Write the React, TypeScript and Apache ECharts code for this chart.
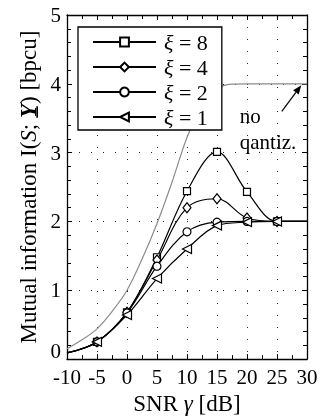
import React, { useEffect, useRef } from 'react';
import * as echarts from 'echarts';

const snr = [-10, -5, 0, 5, 10, 15, 20, 25, 30];
const xi8 = [0.09, 0.25, 0.68, 1.48, 2.44, 3.01, 2.43, 2.0, 2.0];
const xi4 = [0.09, 0.25, 0.68, 1.44, 2.2, 2.33, 2.05, 2.0, 2.0];
const xi2 = [0.09, 0.25, 0.67, 1.35, 1.85, 1.99, 2.0, 2.0, 2.0];
const xi1 = [0.09, 0.25, 0.64, 1.17, 1.6, 1.94, 1.99, 2.0, 2.0];
const grayX = [-10, -7.5, -5, -2.5, 0, 2.5, 5, 7.5, 10, 12.5, 15, 17.5, 20, 25, 30];
const grayY = [0.15, 0.28, 0.44, 0.69, 1.0, 1.45, 1.97, 2.57, 3.22, 3.68, 3.93, 3.995, 4, 4, 4];
const seriesNames = ['xi8', 'xi4', 'xi2', 'xi1'];
const legendLabels = ['8', '4', '2', '1'];
const symbols = ['rect', 'diamond', 'circle', 'path://M0,5L10,0L10,10Z'];
const symbolSizes = [7, [8, 10], 8, 9];

const FONT = 'Liberation Serif';

function build(vals: number[], i: number) {
  return {
    name: seriesNames[i],
    type: 'line',
    smooth: 0.35,
    symbol: symbols[i],
    symbolSize: symbolSizes[i],
    lineStyle: { color: '#000', width: 1.2 },
    itemStyle: { color: '#fff', borderColor: '#000', borderWidth: 1.2 },
    z: 3 + i,
    data: snr.map((x, k) =>
      k === 0 || k === snr.length - 1
        ? { value: [x, vals[k]], symbol: 'none' }
        : [x, vals[k]]
    ),
  };
}

export default function App() {
  const ref = useRef<HTMLDivElement>(null);
  useEffect(() => {
    document.body.style.margin = '0';
    const chart = echarts.init(ref.current!, null, { renderer: 'svg' });
    const axisCommon = {
      type: 'value',
      axisLine: { show: true, onZero: false, lineStyle: { color: '#000', width: 1.3 } },
      axisTick: { show: true, inside: true, length: 5, lineStyle: { color: '#000', width: 1 } },
      minorTick: { show: true, length: 4, lineStyle: { color: '#000', width: 1 } },
    };
    const option: any = {
      animation: false,
      grid: { left: 67, right: 26, top: 15, bottom: 57 },
      legend: {
        data: seriesNames,
        orient: 'vertical',
        left: 78,
        top: 27,
        padding: [4, 14, 2, 14],
        itemGap: 3,
        itemWidth: 63,
        itemHeight: 11,
        backgroundColor: '#fff',
        borderColor: '#000',
        borderWidth: 1.3,
        borderRadius: 0,
        formatter: (n: string) => '{i|ξ} = ' + legendLabels[seriesNames.indexOf(n)],
        textStyle: {
          fontFamily: FONT,
          fontSize: 22,
          color: '#000',
          lineHeight: 22,
          padding: [0, 0, 0, 3],
          rich: { i: { fontStyle: 'italic', fontFamily: FONT, fontSize: 22, color: '#000' } },
        },
      },
      xAxis: [
        {
          ...axisCommon,
          min: -10,
          max: 30,
          interval: 5,
          minorTick: { ...axisCommon.minorTick, splitNumber: 2 },
          position: 'bottom',
          name: 'SNR {i|γ} [dB]',
          nameLocation: 'middle',
          nameGap: 30,
          nameTextStyle: {
            fontFamily: FONT,
            fontSize: 23,
            color: '#000',
            rich: { i: { fontStyle: 'italic', fontFamily: FONT, fontSize: 23, color: '#000' } },
          },
          axisLabel: { fontFamily: FONT, fontSize: 21, color: '#000', margin: 7 },
          splitLine: { show: true, lineStyle: { color: '#222', type: [1, 11], width: 1 } },
        },
        {
          ...axisCommon,
          min: -10,
          max: 30,
          interval: 5,
          minorTick: { ...axisCommon.minorTick, splitNumber: 2 },
          position: 'top',
          axisLabel: { show: false },
          splitLine: { show: false },
        },
      ],
      yAxis: [
        {
          ...axisCommon,
          min: 0,
          max: 5,
          interval: 1,
          minorTick: { ...axisCommon.minorTick, splitNumber: 5 },
          position: 'left',
          name: 'Mutual information I({i|S}; {b|Y\u0332}) [bpcu]',
          nameLocation: 'middle',
          nameGap: 26,
          nameTextStyle: {
            fontFamily: FONT,
            fontSize: 23,
            color: '#000',
            rich: {
              i: { fontStyle: 'italic', fontFamily: FONT, fontSize: 23, color: '#000' },
              b: { fontWeight: 'bold', fontStyle: 'italic', fontFamily: FONT, fontSize: 23, color: '#000' },
            },
          },
          axisLabel: {
            fontFamily: FONT,
            fontSize: 21,
            color: '#000',
            margin: 6,
            formatter: (v: number) => (v === 0 ? '{z|0}' : String(v)),
            rich: { z: { fontFamily: FONT, fontSize: 21, color: '#000', padding: [0, 0, 16, 0] } },
          },
          splitLine: { show: true, lineStyle: { color: '#222', type: [1, 11], width: 1 } },
        },
        {
          ...axisCommon,
          min: 0,
          max: 5,
          interval: 1,
          minorTick: { ...axisCommon.minorTick, splitNumber: 5 },
          position: 'right',
          axisLabel: { show: false },
          splitLine: { show: false },
        },
      ],
      series: [
        {
          name: 'no quantiz.',
          type: 'line',
          smooth: 0.35,
          symbol: 'none',
          lineStyle: { color: '#8c8c8c', width: 1.2 },
          z: 2,
          data: grayX.map((x, k) => [x, grayY[k]]),
        },
        build(xi8, 0),
        build(xi4, 1),
        build(xi2, 2),
        build(xi1, 3),
      ],
    };
    chart.setOption(option);

    const p = (x: number, y: number) => chart.convertToPixel({ xAxisIndex: 0, yAxisIndex: 0 }, [x, y]) as number[];
    const tail = p(25.8, 3.6);
    const tip = p(29.05, 3.98);
    const dx = tip[0] - tail[0];
    const dy = tip[1] - tail[1];
    const len = Math.hypot(dx, dy);
    const ux = dx / len;
    const uy = dy / len;
    const hl = 9;
    const hw = 3.5;
    const base = [tip[0] - ux * hl, tip[1] - uy * hl];
    const t1 = p(18.8, 3.53);
    const t2 = p(18.8, 3.16);
    chart.setOption({
      graphic: [
        {
          type: 'line',
          shape: { x1: tail[0], y1: tail[1], x2: base[0], y2: base[1] },
          style: { stroke: '#000', lineWidth: 1.2 },
          z: 10,
        },
        {
          type: 'polygon',
          shape: {
            points: [
              tip,
              [base[0] - uy * hw, base[1] + ux * hw],
              [base[0] + uy * hw, base[1] - ux * hw],
            ],
          },
          style: { fill: '#000' },
          z: 10,
        },
        {
          type: 'text',
          x: t1[0],
          y: t1[1],
          style: { text: 'no', font: `21px "${FONT}"`, fill: '#000', textVerticalAlign: 'middle' },
          z: 10,
        },
        {
          type: 'text',
          x: t2[0],
          y: t2[1],
          style: { text: 'qantiz.', font: `21px "${FONT}"`, fill: '#000', textVerticalAlign: 'middle' },
          z: 10,
        },
      ],
    });
    return () => chart.dispose();
  }, []);
  return <div ref={ref} style={{ position: 'fixed', left: 0, top: 0, width: 333, height: 420 }} />;
}
